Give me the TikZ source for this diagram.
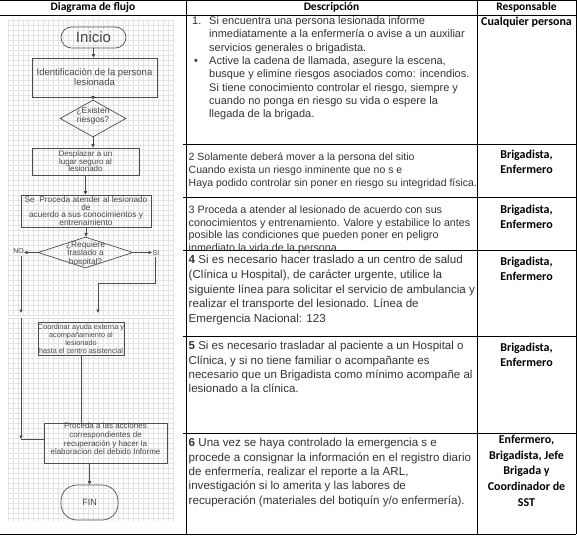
\documentclass[tikz,border=0pt]{standalone}
\usepackage{fontspec}
\setmainfont{Liberation Sans}
\newfontfamily\calibri{Carlito}
\usetikzlibrary{shapes.geometric,arrows.meta,calc}
\definecolor{fcline}{HTML}{4D4D4D}
\definecolor{fctext}{HTML}{474747}
\definecolor{gridc}{HTML}{E2E2E2}
\definecolor{desctext}{HTML}{333333}
\newcommand{\fsz}[2]{\fontsize{#1}{#2}\selectfont}

\begin{document}
\begin{tikzpicture}[x=1pt,y=-1pt,>={Triangle[length=3.5pt,width=3.2pt]},
  rule/.style={draw=black,line width=0.8pt},
  head/.style={inner sep=0,font=\calibri\bfseries\fsz{11.5}{13}},
  desc/.style={anchor=north west,inner sep=0,align=left,text=desctext},
  resp/.style={anchor=north,inner sep=0,align=center,font=\calibri\bfseries\fsz{12}{15.3}},
  fcbox/.style={draw=fcline,line width=0.7pt,inner sep=0,align=center,text=fctext},
  term/.style={fcbox,rounded corners=#1},
  dia/.style={draw=fcline,line width=0.7pt,diamond,inner sep=0},
  fctxt/.style={inner sep=0,align=center,text=fctext},
  flow/.style={->,draw=fcline,line width=0.7pt},
  link/.style={draw=fcline,line width=0.7pt}]
  \useasboundingbox (0,0) rectangle (577,538);
  \foreach \x in {8,13,...,173} {\draw[gridc,line width=0.3pt] (\x,20) -- (\x,316); \draw[gridc,line width=0.3pt] (\x,318) -- (\x,521);}
  \foreach \y in {20,25,...,316} \draw[gridc,line width=0.3pt] (8,\y) -- (173,\y);
  \foreach \y in {318,323,...,521} \draw[gridc,line width=0.3pt] (8,\y) -- (173,\y);
  \draw[rule] (0,0.5) -- (576,0.5);
  \draw[rule] (0,15) -- (576,15);
  \draw[rule] (0,534) -- (576,534);
  \foreach \x in {186,477,576} \draw[rule] (\x,0) -- (\x,534);
  \foreach \y in {144,197,250,336,433} \draw[rule] (183,\y) -- (576,\y);
  \node[head] (hflow) at (93,7.5) {Diagrama de flujo};
  \node[head] (hdesc) at (331.5,7.5) {Descripción};
  \node[head] (hresp) at (526.5,7.5) {Responsable};
  \node[desc,font=\fsz{11}{13.3}] (num1) at (192,16.5) {1.};
  \node[desc,font=\fsz{11}{13.3}] (txt1) at (209,16.5) {Si encuentra una persona lesionada informe\\inmediatamente a la enfermería o avise a un auxiliar\\servicios generales o brigadista.};
  \node[desc,anchor=base west,font=\fsz{11}{13.3}] (bul1) at (194,64.5) {\textbullet};
  \node[desc,font=\fsz{11}{13.3}] (txt1b) at (209,56.5) {Active la cadena de llamada, asegure la escena,\\busque y elimine riesgos asociados como: incendios.\\Si tiene conocimiento controlar el riesgo, siempre y\\cuando no ponga en riesgo su vida o espere la\\llegada de la brigada.};
  \node[desc,font=\fsz{10.5}{13}] (txt2) at (188.5,152.6) {2 Solamente deberá mover a la persona del sitio\\Cuando exista un riesgo inminente que no s e\\Haya podido controlar sin poner en riesgo su integridad física.};
  \node[desc,font=\fsz{10.7}{12.7}] (txt3) at (188.5,205.5) {3 Proceda a atender al lesionado de acuerdo con sus\\conocimientos y entrenamiento. Valore y estabilice lo antes\\posible las condiciones que pueden poner en peligro\\inmediato la vida de la persona.};
  \node[desc,font=\fsz{11.6}{14.7}] (txt4) at (188.5,255.2) {\textbf{4} Si es necesario hacer traslado a un centro de salud\\(Clínica u Hospital), de carácter urgente, utilice la\\siguiente línea para solicitar el servicio de ambulancia y\\realizar el transporte del lesionado. Línea de\\Emergencia Nacional: 123};
  \node[desc,font=\fsz{11.5}{14.3}] (txt5) at (188.5,341.2) {\textbf{5} Si es necesario trasladar al paciente a un Hospital o\\Clínica, y si no tiene familiar o acompañante es\\necesario que un Brigadista como mínimo acompañe al\\lesionado a la clínica.};
  \node[desc,font=\fsz{11.6}{14.3}] (txt6) at (188.5,438.2) {\textbf{6} Una vez se haya controlado la emergencia s e\\procede a consignar la información en el registro diario\\de enfermería, realizar el reporte a la ARL,\\investigación si lo amerita y las labores de\\recuperación (materiales del botiquín y/o enfermería).};
  \node[resp] (resp1) at (526.5,16.9) {Cualquier persona};
  \node[resp] (resp2) at (526.5,149.9) {Brigadista,\\Enfermero};
  \node[resp] (resp3) at (526.5,204.9) {Brigadista,\\Enfermero};
  \node[resp] (resp4) at (526.5,256.9) {Brigadista,\\Enfermero};
  \node[resp] (resp5) at (526.5,342.9) {Brigadista,\\Enfermero};
  \node[resp,font=\calibri\bfseries\fsz{12}{15.7}] (resp6) at (526.5,434.9) {Enfermero,\\Brigadista, Jefe\\Brigada y\\Coordinador de\\SST};
  \node[term=10.5pt,minimum width=65,minimum height=21,font=\fsz{15}{17}] (ini) at (93.5,37.5) {Inicio};
  \node[fcbox,minimum width=125,minimum height=39,font=\fsz{9.5}{10}] (ident) at (94.5,77.5) {Identificación de la persona\\lesionada};
  \node[dia,minimum width=66,minimum height=37] (risk) at (93,118.5) {};
  \node[fctxt,font=\fsz{8.5}{7.5}] (risktxt) at (93,115.5) {¿Existen\\riesgos?};
  \node[fcbox,minimum width=107,minimum height=27,font=\fsz{8}{7.5}] (move) at (85.5,161.5) {Desplazar a un\\lugar seguro al\\lesionado};
  \node[fcbox,minimum width=130,minimum height=32,font=\fsz{8.3}{7.8}] (care) at (86,211) {Se\ \ Proceda atender al lesionado\\de\\acuerdo a sus conocimientos y\\entrenamiento};
  \node[dia,minimum width=95,minimum height=31] (trans) at (85.5,252.5) {};
  \node[fctxt,font=\fsz{8.3}{8.5}] (transtxt) at (85.5,253.5) {¿Requiere\\traslado a\\hospital?};
  \node[fcbox,minimum width=86,minimum height=33,font=\fsz{7.3}{8}] (coord) at (81,338.5) {Coordinar ayuda externa y\\acompañamiento al\\lesionado\\hasta el centro asistencial};
  \node[fcbox,minimum width=123,minimum height=40] (rec) at (105.5,443) {};
  \node[fctxt,font=\fsz{8}{8.7}] (rectxt) at (105.5,439) {Proceda a las acciones\\correspondientes de\\recuperación y hacer la\\elaboracion del debido Informe};
  \node[term=16pt,minimum width=57,minimum height=35,font=\fsz{9}{11}] (fin) at (89.5,502.5) {FIN};
  \draw[flow] (ini.south) -- (ini.south |- ident.north);
  \draw[flow] (risk.north |- ident.south) -- (risk.north);
  \draw[flow] (risk.south) -- (risk.south |- move.north);
  \draw[flow] (move.south) -- (move.south |- care.north);
  \draw[flow] (care.south) -- (care.south |- trans.north);
  \coordinate (noend) at (24,252.5);
  \coordinate (noa) at (21,256);
  \coordinate (nob) at (21,313);
  \coordinate (noc) at (21,318);
  \coordinate (nod) at (21,439);
  \draw[flow] (trans.west) -- (noend);
  \node[fctxt,font=\fsz{7}{8}] (nolab) at (18.5,251) {NO};
  \draw[flow] (noa) -- (nob);
  \draw[flow] (noc) -- (nod);
  \draw[link] (nod) -- (nod -| rec.west);
  \coordinate (siend) at (152,252.5);
  \coordinate (sia) at (155,257);
  \coordinate (sib) at (155,283);
  \coordinate (sic) at (98,283);
  \coordinate (sid) at (98,313);
  \draw[flow] (trans.east) -- (siend);
  \node[fctxt,font=\fsz{7}{8}] (silab) at (156,253) {SI};
  \draw[flow] (sia) -- (sib) -- (sic) -- (sid);
  \draw[link] (coord.south) -- (coord.south |- rec.north);
  \draw[flow] (fin.north |- rec.south) -- (fin.north);
\end{tikzpicture}
\end{document}
